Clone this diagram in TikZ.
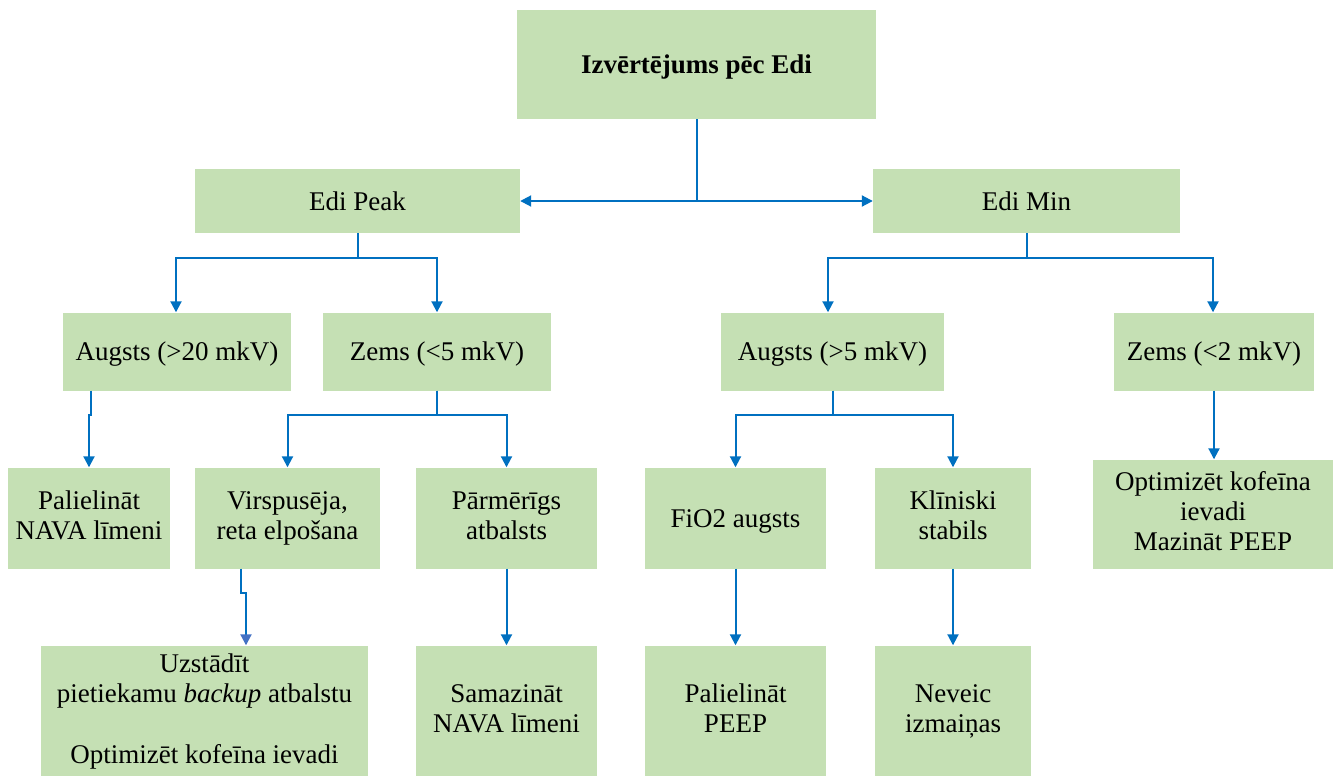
\documentclass[tikz,border=0pt]{standalone}
\usepackage{fontspec}
\setmainfont{Liberation Serif}
\usetikzlibrary{arrows.meta}
\definecolor{boxgreen}{HTML}{C5E0B4}
\definecolor{linkblue}{HTML}{0070C0}
\definecolor{tipblue}{HTML}{4472C4}
% strut that sets the baseline a little low in each box
\newcommand\boxstrut{\rule[-5.5pt]{0pt}{30pt}}
\begin{document}
\begin{tikzpicture}[x=1pt,y=-1pt,
  box/.style={fill=boxgreen,draw=none,inner sep=0pt,align=center,
    font=\fontsize{27}{30}\selectfont,
    execute at begin node=\boxstrut, execute at end node=\boxstrut},
  link/.style={draw=linkblue,line width=2pt},
  arr/.style={link,-{Triangle[length=11pt,width=11pt]}},
  arrpale/.style={draw=linkblue,line width=2pt,-{Triangle[length=11pt,width=11pt,color=tipblue]}}]
\useasboundingbox (0,0) rectangle (1339,776);
% boxes: (centre x, centre y), width, height
\node[box,minimum width=359pt,minimum height=109pt,font=\fontsize{27}{30}\selectfont\bfseries] (top) at (696.5,64.5) {Izvērtējums pēc Edi};
\node[box,minimum width=325pt,minimum height=64pt] (peak) at (357.5,201) {Edi Peak};
\node[box,minimum width=307pt,minimum height=64pt] (min) at (1026.5,201) {Edi Min};
\node[box,minimum width=228pt,minimum height=78pt] (a20) at (177,351.5) {Augsts (>20 mkV)};
\node[box,minimum width=228pt,minimum height=78pt] (z5) at (437,351.5) {Zems (<5 mkV)};
\node[box,minimum width=223pt,minimum height=78pt] (a5) at (832.5,351.5) {Augsts (>5 mkV)};
\node[box,minimum width=200pt,minimum height=78pt] (z2) at (1214,351.5) {Zems (<2 mkV)};
\node[box,minimum width=162pt,minimum height=101pt] (pal) at (89,518) {Palielināt\\NAVA līmeni};
\node[box,minimum width=185pt,minimum height=101pt] (virsp) at (287.5,518) {Virspusēja,\\reta elpošana};
\node[box,minimum width=181pt,minimum height=101pt] (parm) at (506.5,518) {Pārmērīgs\\atbalsts};
\node[box,minimum width=181pt,minimum height=101pt] (fio) at (735.5,518) {FiO2 augsts};
\node[box,minimum width=156pt,minimum height=101pt] (klin) at (953,518) {Klīniski\\stabils};
\node[box,minimum width=240pt,minimum height=109pt] (opt) at (1213,514) {Optimizēt kofeīna\\ievadi\\Mazināt PEEP};
\node[box,minimum width=327pt,minimum height=131pt] (uzst) at (204.5,711) {Uzstādīt\\pietiekamu \textit{backup} atbalstu\\[31pt]Optimizēt kofeīna ievadi};
\node[box,minimum width=181pt,minimum height=131pt] (sam) at (506.5,711) {Samazināt\\NAVA līmeni};
\node[box,minimum width=181pt,minimum height=131pt] (ppeep) at (735.5,711) {Palielināt\\PEEP};
\node[box,minimum width=156pt,minimum height=131pt] (nev) at (953,711) {Neveic\\izmaiņas};
% connectors
\draw[arr] (top.south) |- (peak.east);
\draw[arr] (top.south) |- (min.west);
\draw[arr] (peak.south) -- ++(0,25) -| ([xshift=-1pt]a20.north);
\draw[arr] (peak.south) -- ++(0,25) -| (z5.north);
\draw[arr] (min.south) -- ++(0,25) -| ([xshift=-4.5pt]a5.north);
\draw[arr] (min.south) -- ++(0,25) -| ([xshift=-1pt]z2.north);
\draw[arr] ([xshift=28pt]a20.south west) -- ++(0,24) -| (pal.north);
\draw[arr] (z5.south) -- ++(0,24) -| (virsp.north);
\draw[arr] (z5.south) -- ++(0,24) -| (parm.north);
\draw[arr] (a5.south) -- ++(0,24) -| (fio.north);
\draw[arr] (a5.south) -- ++(0,24) -| (klin.north);
\draw[arr] (z2.south) -- (z2.south |- opt.north);
\draw[arrpale] ([xshift=46pt]virsp.south west) -- ++(0,24) -| ([xshift=41.5pt]uzst.north);
\draw[arr] (parm.south) -- (sam.north);
\draw[arr] (fio.south) -- (ppeep.north);
\draw[arr] (klin.south) -- (nev.north);
\end{tikzpicture}
\end{document}
